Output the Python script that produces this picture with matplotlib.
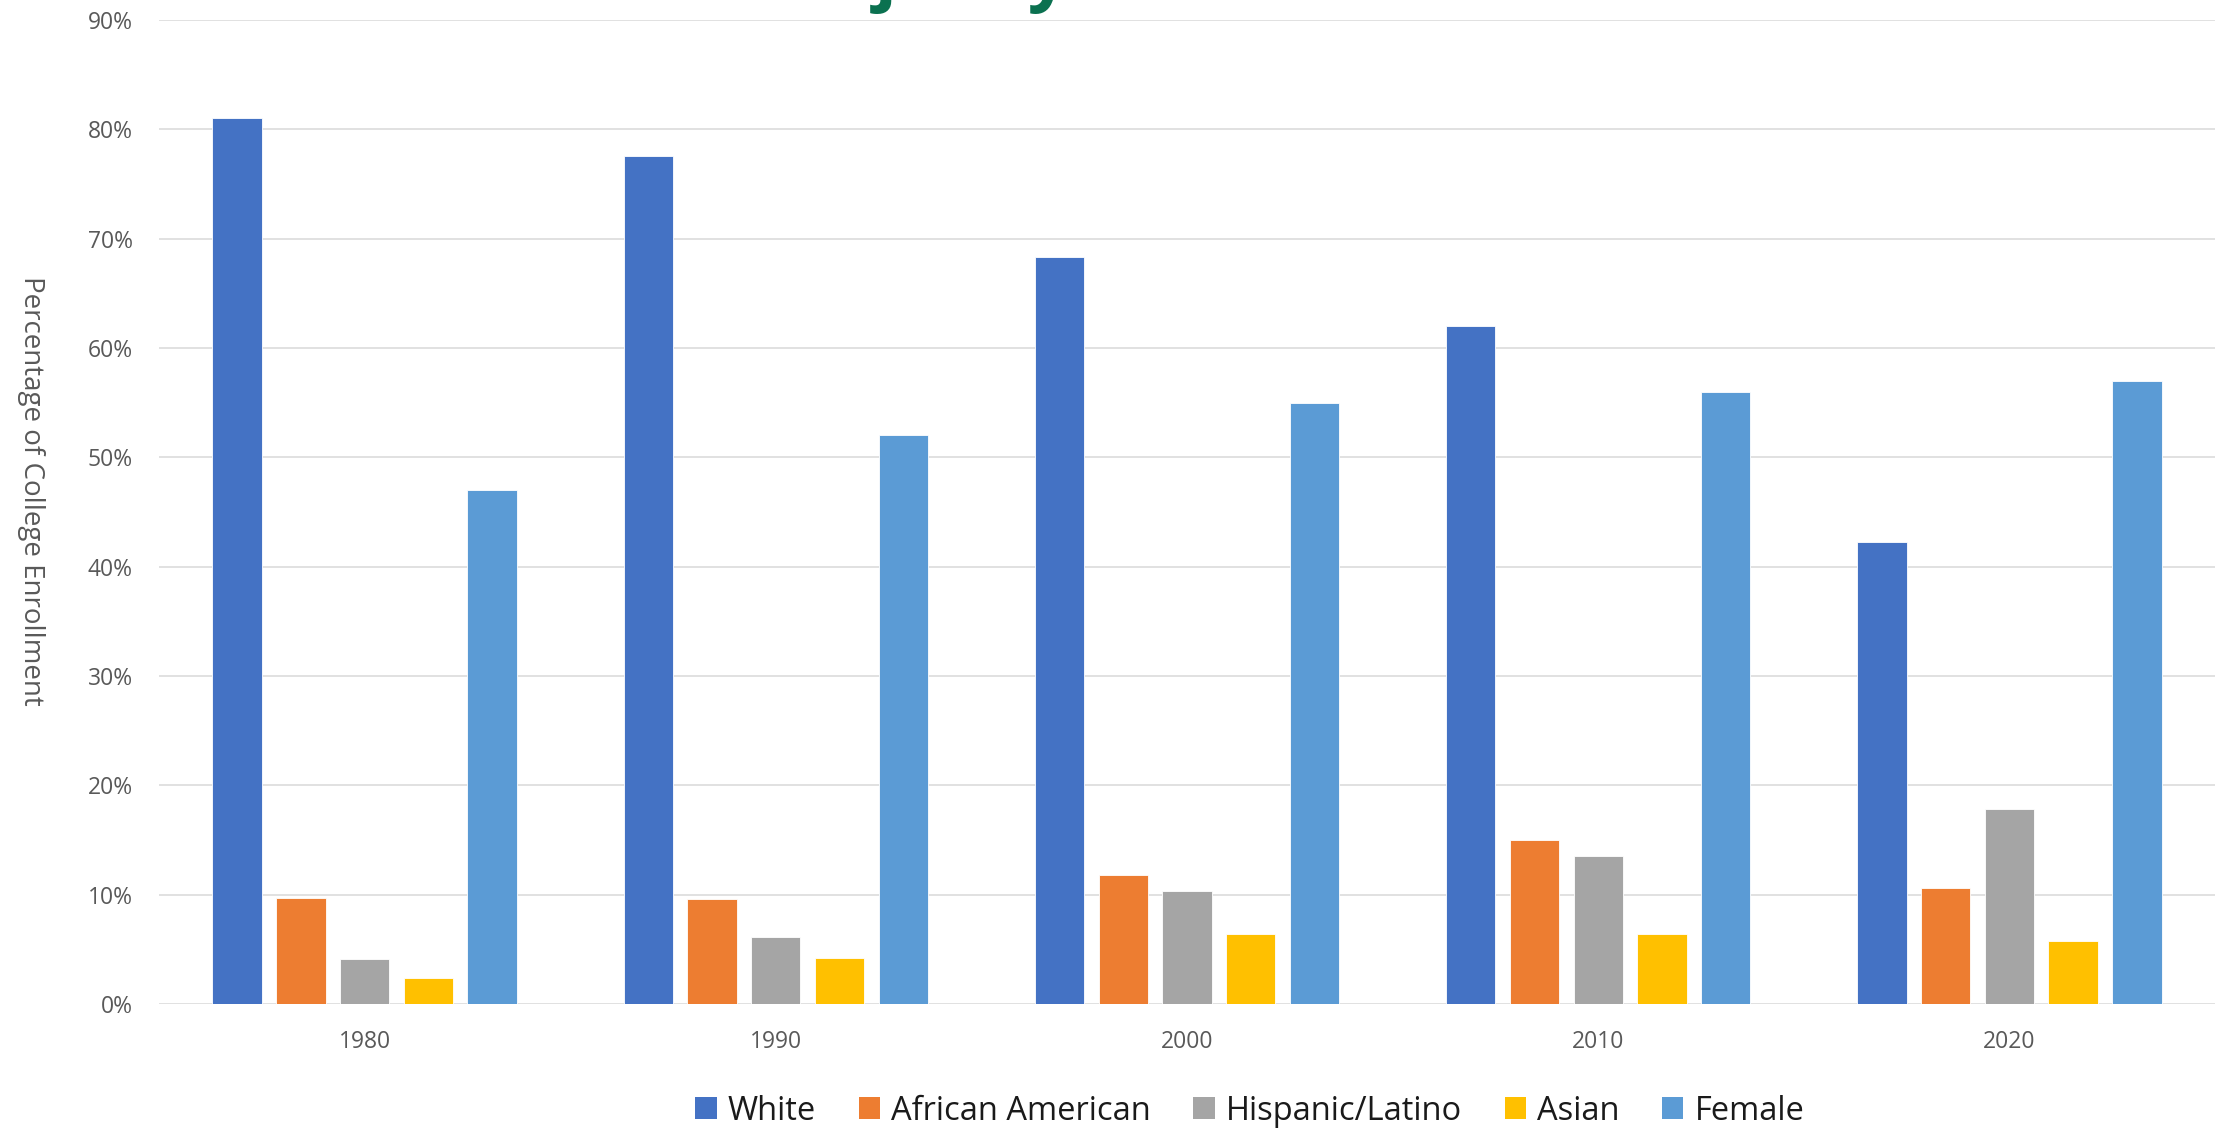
import matplotlib
matplotlib.use("Agg")
import matplotlib.pyplot as plt
import numpy as np
from matplotlib.patches import Patch

years = ["1980", "1990", "2000", "2010", "2020"]
series_names = ["White", "African American", "Hispanic/Latino", "Asian", "Female"]
white = [81.0, 77.6, 68.3, 62.0, 42.3]
african_american = [9.7, 9.6, 11.8, 15.0, 10.6]
hispanic_latino = [4.1, 6.1, 10.3, 13.5, 17.8]
asian = [2.4, 4.2, 6.4, 6.4, 5.8]
female = [47.0, 52.0, 55.0, 56.0, 57.0]
yticks = [0, 10, 20, 30, 40, 50, 60, 70, 80, 90]
title_fragment = "Majority"

series = [white, african_american, hispanic_latino, asian, female]
colors = ["#4472C4", "#ED7D31", "#A5A5A5", "#FFC000", "#5B9BD5"]

W, H = 2224, 1128
fig = plt.figure(figsize=(W / 100, H / 100), dpi=100)
left, right, top, bottom = 159, 2215, 20, 1004
ax = fig.add_axes([left / W, 1 - bottom / H, (right - left) / W, (bottom - top) / H])

x = np.arange(len(years))
step = 0.155
width = 0.12
for i, (vals, c) in enumerate(zip(series, colors)):
    ax.bar(x + (i - 2) * step, vals, width=width, color=c, edgecolor="white",
           linewidth=0.6, zorder=3, label=series_names[i])

ax.set_xlim(-0.5, len(years) - 0.5)
ax.set_ylim(0, 90)
ax.set_yticks(yticks)
ax.set_yticklabels([f"{t}%" for t in yticks])
ax.set_xticks(x)
ax.set_xticklabels(years)
for s in ax.spines.values():
    s.set_visible(False)
ax.yaxis.grid(True, color="#D9D9D9", linewidth=1.1, zorder=0)
ax.set_axisbelow(True)
ax.tick_params(axis="both", length=0, colors="#595959", labelsize=16.5)
ax.tick_params(axis="y", pad=19)
ax.tick_params(axis="x", pad=19)
for lab in ax.get_xticklabels() + ax.get_yticklabels():
    lab.set_fontfamily("Open Sans")

fig.text(31 / W, 1 - 491 / H, "Percentage of College Enrollment", rotation=-90,
         ha="center", va="center", fontsize=20, color="#595959", family="Open Sans")

handles = [Patch(facecolor=c, edgecolor="none") for c in colors]
fig.legend(handles, series_names, loc="center", bbox_to_anchor=(1250 / W, 1 - 1111 / H),
           ncol=5, frameon=False, prop={"family": "Open Sans", "size": 23.5},
           handlelength=0.65, handleheight=0.65, handletextpad=0.35, columnspacing=1.3,
           labelcolor="#1a1a1a")

fig.text(764 / W, 1 + 3 / H, title_fragment, ha="left", va="baseline",
         fontsize=52, fontweight="bold", color="#0B7150", family="Open Sans")

fig.savefig("out.png", dpi=100)
